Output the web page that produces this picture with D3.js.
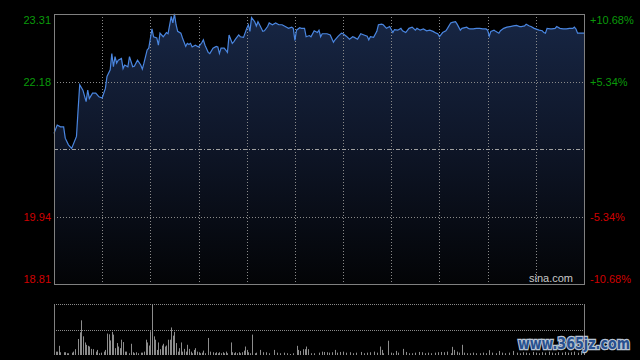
<!doctype html>
<html>
<head>
<meta charset="utf-8">
<style type="text/css">
  html, body { margin: 0; padding: 0; background: #000; }
  svg { display: block; }
</style>
<script src="https://d3js.org/d3.v7.min.js"></script>
</head>
<body>
<svg width="640" height="360"></svg>
<script type="text/javascript">
// previous close and the percent ticks of the price axis
var prevClose = 21.06;
var pctTicks = [10.68, 5.34, -5.34, -10.68];

// minute of the session (0..330) and last price
var priceMinutes = [0,2,4,6,7,9,11,14,15,16,18,20,21,22,24,26,28,30,32,33,35,36,37,38,39,40,42,43,44,46,47,49,50,52,54,55,56,58,59,61,62,64,65,66,68,70,71,73,74,75,76,77,79,80,82,83,84,85,86,88,90,92,93,94,96,97,99,101,102,103,104,106,108,109,111,112,113,115,116,118,120,121,122,123,125,126,127,128,130,131,133,134,136,138,140,142,144,146,148,149,150,151,153,154,156,157,159,160,162,164,165,166,167,170,172,174,175,177,179,180,182,184,186,187,189,191,193,195,196,197,199,201,202,204,205,207,209,211,212,214,216,217,219,221,223,225,226,228,230,232,234,236,238,239,240,242,244,245,247,248,250,251,253,254,257,258,259,261,263,265,267,269,270,271,272,274,275,277,278,280,282,284,286,288,290,291,293,294,296,297,299,302,304,305,306,307,309,310,312,313,315,317,319,321,323,324,325,326,329,330];
var prices = [21.32,21.46,21.43,21.43,21.24,21.13,21.07,21.27,21.71,22.13,22.04,21.85,22.04,21.90,21.99,21.99,21.93,21.91,22.07,22.27,22.38,22.65,22.43,22.60,22.49,22.54,22.57,22.40,22.46,22.43,22.60,22.43,22.44,22.54,22.46,22.39,22.49,22.71,22.74,23.06,22.93,22.91,22.79,22.99,22.93,23.00,22.98,23.27,23.16,23.31,23.13,23.02,22.99,22.91,22.77,22.82,22.80,22.82,22.76,22.79,22.76,22.83,22.88,22.79,22.67,22.65,22.74,22.77,22.76,22.65,22.74,22.74,22.67,22.96,22.82,22.85,22.89,22.96,22.93,22.92,23.07,23.13,23.02,23.25,23.18,23.11,23.18,23.13,23.02,23.03,23.10,23.16,23.13,23.16,23.13,23.13,23.10,23.07,23.09,23.07,22.87,23.04,23.08,23.07,23.07,22.93,22.95,22.93,23.03,23.00,23.04,22.93,22.98,22.98,22.96,22.84,22.88,22.94,22.99,22.98,22.94,22.89,22.93,22.92,22.89,22.98,22.96,22.94,22.88,22.93,22.92,23.02,23.13,23.14,23.13,23.07,23.10,23.00,23.05,23.04,23.07,23.03,23.00,23.07,23.09,23.04,23.07,23.04,23.06,23.03,23.04,23.02,22.99,22.98,22.93,23.00,23.03,23.07,23.16,23.17,23.18,23.14,23.04,23.07,23.09,23.07,23.06,23.06,23.07,23.07,23.06,23.06,23.04,22.94,23.02,23.04,23.02,22.99,23.03,23.07,23.09,23.10,23.11,23.12,23.10,23.10,23.11,23.14,23.11,23.10,23.07,23.04,23.03,23.00,22.99,23.07,23.06,23.06,23.07,23.10,23.07,23.06,23.06,23.07,23.07,23.09,23.06,22.99,22.99,22.99];

// minute and traded volume (thousand shares)
var volMinutes = [1,2,3,4,6,7,8,9,11,12,13,15,16,17,18,19,20,21,22,23,24,26,27,28,29,31,32,33,34,35,36,37,38,39,40,41,42,43,44,45,47,48,49,50,51,52,54,55,56,57,58,59,60,61,62,63,64,65,66,67,68,69,70,71,72,73,74,75,76,77,78,79,80,81,82,83,84,85,86,87,88,89,90,91,92,93,94,96,97,99,100,101,102,103,104,105,106,107,108,110,111,112,113,114,115,116,117,118,119,120,121,122,123,125,126,128,130,132,134,137,139,141,143,145,147,149,151,152,153,155,156,157,158,160,162,165,167,168,170,171,173,175,176,178,180,182,184,186,188,191,193,195,197,199,201,203,204,205,208,210,211,213,214,217,219,221,223,225,227,229,231,233,235,237,239,241,243,245,247,248,249,251,252,254,255,257,259,261,263,265,267,269,271,273,275,277,279,281,283,286,288,290,292,294,296,298,300,302,304,306,308,310,312,314,316,318,320,322,324,326,328,330];
var volumes = [66,66,180,54,54,54,34,34,46,66,114,314,446,680,366,246,200,180,166,120,114,66,100,34,46,66,100,420,406,286,454,400,134,234,166,134,300,254,66,66,34,220,54,34,54,34,46,46,66,300,246,186,466,1000,366,300,100,246,114,186,220,166,186,300,300,540,380,454,234,66,134,246,66,120,66,200,120,66,34,100,134,66,54,34,46,86,34,334,66,54,34,54,34,54,34,54,34,66,34,246,54,34,54,34,54,34,54,86,166,100,54,34,400,34,46,100,54,54,34,100,46,34,46,34,20,34,180,100,80,114,114,166,114,34,34,46,66,60,54,46,54,100,46,60,66,46,54,34,46,60,34,46,54,66,46,166,100,34,280,46,34,80,46,120,60,34,34,46,60,54,34,46,34,46,54,60,54,66,34,160,100,66,46,200,46,34,34,46,34,34,46,34,94,46,34,80,46,34,46,80,46,34,54,46,34,60,46,34,54,46,66,46,34,54,46,60,46,54,66,46,80,60];

var svg = d3.select("svg");
var plot = { left: 54, right: 584, top: 14, bottom: 284 };
var volBox = { top: 304, bottom: 355 };

var x = d3.scaleLinear().domain([0, 330]).range([plot.left, plot.right]);
var y = d3.scaleLinear()
    .domain([prevClose * (1 - pctTicks[0] / 100), prevClose * (1 + pctTicks[0] / 100)])
    .range([plot.bottom, plot.top]);
var yVol = d3.scaleLinear().domain([0, d3.max(volumes)]).range([volBox.bottom, volBox.top]);

var data = priceMinutes.map((m, i) => ({ m: m, p: prices[i] }));

// gradient fill under the price line
var grad = svg.append("defs").append("linearGradient")
    .attr("id", "fillGrad")
    .attr("gradientUnits", "userSpaceOnUse")
    .attr("x1", 0).attr("x2", 0)
    .attr("y1", plot.top).attr("y2", plot.bottom);
grad.append("stop").attr("offset", "0%").attr("stop-color", "#172644");
grad.append("stop").attr("offset", "45%").attr("stop-color", "#0f172a");
grad.append("stop").attr("offset", "100%").attr("stop-color", "#030406");

svg.append("path")
    .datum(data)
    .attr("fill", "url(#fillGrad)")
    .attr("d", d3.area().x(d => x(d.m)).y0(plot.bottom).y1(d => y(d.p)));

// grid
var priceTicks = pctTicks.map(p => prevClose * (1 + p / 100));
svg.append("g")
    .selectAll("line")
    .data(priceTicks.slice(1, 3))
    .enter().append("line")
    .attr("x1", plot.left).attr("x2", plot.right)
    .attr("y1", d => Math.round(y(d)) + 0.5).attr("y2", d => Math.round(y(d)) + 0.5)
    .style("stroke", "#8a8a8a")
    .style("stroke-dasharray", "1,2");

svg.append("g")
    .selectAll("line")
    .data(d3.range(30, 330, 30))
    .enter().append("line")
    .attr("x1", d => Math.round(x(d)) + 0.5).attr("x2", d => Math.round(x(d)) + 0.5)
    .attr("y1", plot.top).attr("y2", plot.bottom)
    .style("stroke", "#8a8a8a")
    .style("stroke-dasharray", "1,2");

// previous close line
svg.append("line")
    .attr("x1", plot.left).attr("x2", plot.right)
    .attr("y1", Math.round(y(prevClose)) + 0.5).attr("y2", Math.round(y(prevClose)) + 0.5)
    .style("stroke", "#a0a0a0")
    .style("stroke-dasharray", "4,2,1,2");

// price line
svg.append("path")
    .datum(data)
    .attr("fill", "none")
    .attr("stroke", "#4a86e0")
    .attr("stroke-width", 1.2)
    .attr("d", d3.line().x(d => x(d.m)).y(d => y(d.p)));

// frame
svg.append("rect")
    .attr("x", plot.left + 0.5).attr("y", plot.top + 0.5)
    .attr("width", plot.right - plot.left).attr("height", plot.bottom - plot.top)
    .style("fill", "none")
    .style("stroke", "#808080");

// axis labels
var labelColor = d => d > 0 ? "#0a9a0a" : "#d00000";
var labelDy = (d, i) => i == 0 ? 10 : (i == pctTicks.length - 1 ? -1.5 : 4);
svg.append("g")
    .selectAll("text")
    .data(pctTicks)
    .enter().append("text")
    .attr("x", 51)
    .attr("y", (d, i) => y(prevClose * (1 + d / 100)) + labelDy(d, i))
    .text(d => (prevClose * (1 + d / 100)).toFixed(2))
    .style("text-anchor", "end")
    .style("fill", labelColor)
    .style("font-family", "Liberation Sans, Arial, sans-serif")
    .style("font-size", "11px");

svg.append("g")
    .selectAll("text")
    .data(pctTicks)
    .enter().append("text")
    .attr("x", 590)
    .attr("y", (d, i) => y(prevClose * (1 + d / 100)) + labelDy(d, i))
    .text(d => (d > 0 ? "+" : "") + d.toFixed(2) + "%")
    .style("fill", labelColor)
    .style("font-family", "Liberation Sans, Arial, sans-serif")
    .style("font-size", "11px");

svg.append("text")
    .attr("x", 573).attr("y", 282)
    .text("sina.com")
    .style("text-anchor", "end")
    .style("fill", "#c8c8c8")
    .style("font-family", "Liberation Sans, Arial, sans-serif")
    .style("font-size", "11px");

// volume panel
svg.append("g")
    .selectAll("line")
    .data([volBox.top, (volBox.top + volBox.bottom) / 2])
    .enter().append("line")
    .attr("x1", plot.left).attr("x2", plot.right)
    .attr("y1", d => Math.round(d) + 0.5).attr("y2", d => Math.round(d) + 0.5)
    .style("stroke", "#8a8a8a")
    .style("stroke-dasharray", "1,1");

svg.append("g")
    .selectAll("line")
    .data([plot.left, plot.right])
    .enter().append("line")
    .attr("x1", d => d + 0.5).attr("x2", d => d + 0.5)
    .attr("y1", volBox.top).attr("y2", volBox.bottom)
    .style("stroke", "#808080");

svg.append("g")
    .selectAll("rect")
    .data(volMinutes.map((m, i) => ({ m: m, v: volumes[i] })))
    .enter().append("rect")
    .attr("x", d => Math.round(x(d.m)))
    .attr("y", d => yVol(d.v))
    .attr("width", 1)
    .attr("height", d => volBox.bottom - yVol(d.v))
    .style("fill", "#8c8c8c");

// site watermark
svg.append("text")
    .attr("x", 518).attr("y", 349)
    .attr("textLength", 112)
    .attr("lengthAdjust", "spacingAndGlyphs")
    .text("www.365jz.com")
    .style("fill", "#27508f")
    .style("stroke", "#b8c4d4")
    .style("stroke-width", 2.5)
    .style("paint-order", "stroke")
    .style("font-family", "DejaVu Sans, sans-serif")
    .style("font-weight", "bold")
    .style("font-size", "15px");
</script>
</body>
</html>
